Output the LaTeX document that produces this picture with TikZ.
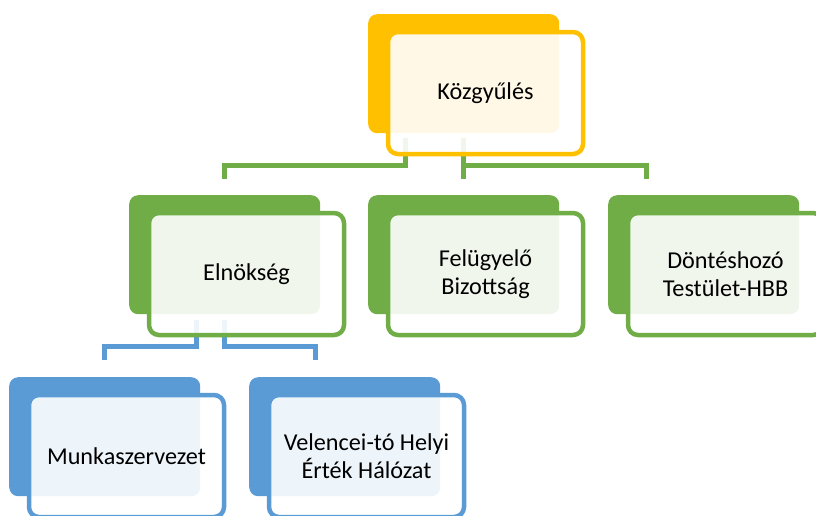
\documentclass[tikz,border=0pt]{standalone}
\usepackage{fontspec}
\setmainfont{Carlito}
\usetikzlibrary{calc}
\definecolor{cy}{HTML}{FFC000}
\definecolor{cg}{HTML}{70AD47}
\definecolor{cb}{HTML}{5B9BD5}
\tikzset{
  backbox/.style={draw=none, fill=#1, rounded corners=9pt, minimum width=191pt, minimum height=119pt, inner sep=0pt, anchor=north west},
  frontbox/.style={draw=#1, line width=4.5pt, fill=white, fill opacity=0.9, text opacity=1, rounded corners=10pt, minimum width=195pt, minimum height=122pt, inner sep=0pt, anchor=center, align=center, text=black, font=\fontsize{24.2}{27.5}\selectfont},
  conn/.style={draw=#1, line width=5pt, line join=miter}
}
\begin{document}
\begin{tikzpicture}[x=1pt,y=-1pt]
\clip (0,0) rectangle (816,515);
\fill[white] (0,0) rectangle (816,515);
% back boxes
\node[backbox=cy] (kb) at (368,14) {};
\node[backbox=cg] (eb) at (129,195) {};
\node[backbox=cg] (fb) at (368,195) {};
\node[backbox=cg] (db) at (608,195) {};
\node[backbox=cb] (mb) at (9,377) {};
\node[backbox=cb] (vb) at (249,377) {};
% connectors
\draw[conn=cg] ($(kb.south west)+(37,4.5)$) -- ++(0,27.5) -| ($(eb.north)+(0,-16.5)$);
\draw[conn=cg] ($(kb.south)+(0,4.5)$) -- ($(fb.north)+(0,-16.5)$);
\draw[conn=cg] ($(kb.south)+(0,32)$) -| ($(db.north west)+(38,-16.5)$);
\draw[conn=cb] ($(eb.south west)+(67,6)$) -- ++(0,26.5) -| ($(mb.north)+(0,-17)$);
\draw[conn=cb] ($(eb.south west)+(95,6)$) -- ++(0,26.5) -| ($(vb.north west)+(66,-17)$);
% front boxes
\node[frontbox=cy] (k) at ($(kb.north west)+(117.5,79)$) {Közgyűlés};
\node[frontbox=cg] (e) at ($(eb.north west)+(117.5,79)$) {Elnökség};
\node[frontbox=cg] (f) at ($(fb.north west)+(117.5,79)$) {Felügyelő\\Bizottság};
\node[frontbox=cg] (d) at ($(db.north west)+(117.5,79)$) {Döntéshozó\\Testület-HBB};
\node[frontbox=cb] (m) at ($(mb.north west)+(117.5,79)$) {Munkaszervezet};
\node[frontbox=cb] (v) at ($(vb.north west)+(117.5,79)$) {Velencei-tó Helyi\\Érték Hálózat};
\end{tikzpicture}
\end{document}
